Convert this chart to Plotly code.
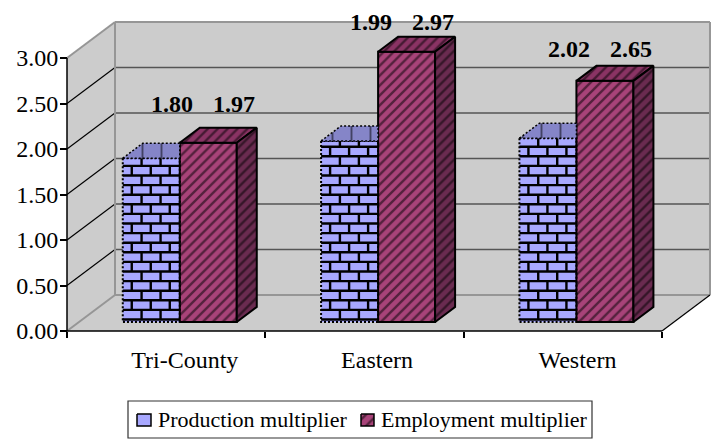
import plotly.graph_objects as go

categories = ["Tri-County", "Eastern", "Western"]
production = [1.80, 1.99, 2.02]
employment = [1.97, 2.97, 2.65]
label_heights = [2.50, 3.396, 3.099]
y_ticks = [0, 0.5, 1, 1.5, 2, 2.5, 3]

W, H = 714, 441
X0, Y0 = 67, 331            # pixel position of the front axes origin
UX, UY = 198.33, 91.0       # pixels per category / per unit value
CX = X0 + UX / 2

def px_x(p): return (p - CX) / UX
def px_y(p): return (Y0 - p) / UY
def dx(p): return p / UX
def dy(p): return p / UY

WALL_DX, WALL_DY = dx(48), dy(36)
GAP_DX, BASE = dx(13.6), dy(9)
BAR_W = dx(57)
DEPTH_X, DEPTH_Y = dx(20), dy(15)
BLUE, BLUE_TOP = "#a8a8ff", "#8585c8"
RED, RED_TOP, RED_SIDE = "#a84379", "#8a3364", "#6a2b50"
WALL = "#cccccc"
EDGE = "#969696"
FONT = "Liberation Serif"

xr = [px_x(0), px_x(W)]
yr = [px_y(H), px_y(0)]
n = len(categories)
x_first = -0.5
x_last = n - 0.5
top = max(y_ticks)

shapes = []
def poly(pts, fill, line=None, width=0):
    path = "M" + "L".join(f"{a},{b}" for a, b in pts) + "Z"
    shapes.append(dict(type="path", path=path, xref="x", yref="y", layer="below", fillcolor=fill,
                       line=dict(color=line or fill, width=width)))
def seg(a, b, color, width):
    shapes.append(dict(type="line", x0=a[0], y0=a[1], x1=b[0], y1=b[1], xref="x", yref="y",
                       layer="below", line=dict(color=color, width=width)))

bx0, bx1 = x_first + WALL_DX, x_last + WALL_DX
by0 = WALL_DY
by1 = top + WALL_DY
poly([(bx0, by0), (bx1, by0), (bx1, by1), (bx0, by1)], WALL)
poly([(x_first, 0), (bx0, by0), (bx0, by1), (x_first, top)], WALL)
poly([(x_first, 0), (x_last, 0), (bx1, by0), (bx0, by0)], WALL)
for t in y_ticks:
    if t > 0 and t < top:
        seg((bx0, t + WALL_DY), (bx1, t + WALL_DY), "#555555", 1.5)
        seg((x_first, t), (bx0, t + WALL_DY), "#000000", 1.2)
seg((bx0, by0), (bx1, by0), EDGE, 2)
seg((bx0, by1), (bx1, by1), EDGE, 2)
seg((bx0, by0), (bx0, by1), EDGE, 2)
seg((bx1, by0), (bx1, by1), EDGE, 2)
seg((x_first, top), (bx0, by1), EDGE, 2)
seg((x_first, 0), (bx0, by0), EDGE, 2)
seg((x_last, 0), (bx1, by0), "#000000", 1.2)
seg((x_first, 0), (x_last, 0), "#000000", 1.5)
seg((x_first, 0), (x_first, top), "#000000", 1.5)

group = [i + GAP_DX for i in range(n)]
xp = [g - BAR_W / 2 for g in group]
xe = [g + BAR_W / 2 for g in group]

fig = go.Figure()
fig.add_bar(name="Production multiplier", x=xp, y=production, base=[BASE] * n, width=BAR_W,
            marker=dict(color=BLUE, line=dict(width=0)), showlegend=False)
fig.add_bar(name="Employment multiplier", x=xe, y=employment, base=[BASE] * n, width=BAR_W,
            marker=dict(color=RED, line=dict(color="black", width=2),
                        pattern=dict(shape="/", fgcolor="black", bgcolor=RED, size=7, solidity=0.34)),
            showlegend=False)

def face(xs, ys, bg, pattern, line_w=2, dash="solid", size=7, solidity=0.34):
    fig.add_scatter(x=xs, y=ys, mode="lines", fill="toself", fillcolor=bg,
                    fillpattern=dict(shape=pattern, fgcolor="black", bgcolor=bg, size=size, solidity=solidity),
                    line=dict(color="black", width=line_w, dash=dash), showlegend=False, hoverinfo="skip")

for i in range(n):
    c = xp[i]
    L, R = c - BAR_W / 2, c + BAR_W / 2
    T = BASE + production[i]
    # mortar of the brick pattern
    mx, my = [], []
    row_h, brick_w = dy(9.6), dx(19)
    y = BASE + dy(2.5)
    odd = True
    while y < T:
        mx += [L, R, None]
        my += [y, y, None]
        y_next = min(y + row_h, T)
        start = dx(18.8) if odd else dx(9)
        v = L + start
        while v < R - dx(1):
            mx += [v, v, None]
            my += [y, y_next, None]
            v += brick_w
        odd = not odd
        y += row_h
    fig.add_scatter(x=mx, y=my, mode="lines", line=dict(color="black", width=2.4), showlegend=False, hoverinfo="skip")
    # dotted outline
    fig.add_scatter(x=[L, L, R, R, L], y=[T, BASE, BASE, T, T], mode="lines",
                    line=dict(color="black", width=2, dash="2px,2px"), showlegend=False, hoverinfo="skip")
    # top of the blue column, cut where the red column stands in front
    face([L, L + DEPTH_X, R, R, L], [T, T + DEPTH_Y, T + DEPTH_Y, T, T], BLUE_TOP, "|", 1.5, "2px,2px",
         size=19, solidity=0.1)
    # red column top and side
    c = xe[i]
    L, R = c - BAR_W / 2, c + BAR_W / 2
    T = BASE + employment[i]
    face([L, L + DEPTH_X, R + DEPTH_X, R, L], [T, T + DEPTH_Y, T + DEPTH_Y, T, T], RED_TOP, "/")
    face([R, R + DEPTH_X, R + DEPTH_X, R, R], [T, T + DEPTH_Y, BASE + DEPTH_Y, BASE, T], RED_SIDE, "/")

annotations = []
for i in range(n):
    for v, off in ((production[i], (xp[i] + dx(21))), (employment[i], (xe[i] + dx(26)))):
        annotations.append(dict(x=off, y=label_heights[i], xref="x", yref="y", text=f"<b>{v:.2f}</b>",
                                showarrow=False, font=dict(family=FONT, size=24, color="black")))

# legend
LX0, LX1, LY0, LY1 = 128, 592, 401, 438
shapes.append(dict(type="rect", x0=px_x(LX0), x1=px_x(LX1), y0=px_y(LY0), y1=px_y(LY1), xref="x", yref="y",
                   line=dict(color="#333333", width=1.2), fillcolor="white", layer="below"))
def swatch(a, b, name, bg, shape, size):
    xs = [px_x(a), px_x(b), px_x(b), px_x(a), px_x(a)]
    ys = [px_y(414), px_y(414), px_y(426), px_y(426), px_y(414)]
    fig.add_scatter(x=xs, y=ys, mode="lines", fill="toself", name=name, fillcolor=bg,
                    fillpattern=dict(shape=shape, fgcolor="black", bgcolor=bg, size=size, solidity=0.3),
                    line=dict(color="black", width=1.5), showlegend=False, hoverinfo="skip")
swatch(137, 151, "Production multiplier", BLUE, "", 9)
swatch(361, 374, "Employment multiplier", RED, "/", 8)
for name, a in (("Production multiplier", 156), ("Employment multiplier", 379)):
    annotations.append(dict(x=px_x(a), y=px_y(419), xref="x", yref="y", text=name, xanchor="left",
                            showarrow=False, font=dict(family=FONT, size=22, color="black")))

label_x = [group[0] + dx(5), group[1] - dx(1), group[2] + dx(1)]

fig.update_layout(
    width=W, height=H, margin=dict(l=0, r=0, t=0, b=0), paper_bgcolor="white", plot_bgcolor="white",
    barmode="overlay", shapes=shapes, annotations=annotations, showlegend=False,
    font=dict(family=FONT, color="black"),
    xaxis=dict(range=xr, domain=[0, 1], anchor="free", position=(H - Y0) / H, showgrid=False, zeroline=False,
               showline=False, tickmode="array", tickvals=label_x, ticktext=categories, ticks="",
               ticklabelstandoff=12, tickfont=dict(family=FONT, size=24),
               minor=dict(tickmode="array", tickvals=[-0.5, 0.5, 1.5, 2.5], ticks="outside", ticklen=6,
                          tickcolor="black", tickwidth=1.5, showgrid=False)),
    yaxis=dict(range=yr, domain=[0, 1], anchor="free", position=X0 / W, showgrid=False, zeroline=False,
               showline=False, tickmode="array", tickvals=y_ticks, ticktext=[f"{t:.2f}" for t in y_ticks],
               ticks="outside", ticklen=7, tickwidth=1.5, tickcolor="black", ticklabelstandoff=-3,
               tickfont=dict(family=FONT, size=24)),
)
fig.write_html("out.html", post_script="document.body.style.margin='0';", config=dict(displayModeBar=False))
